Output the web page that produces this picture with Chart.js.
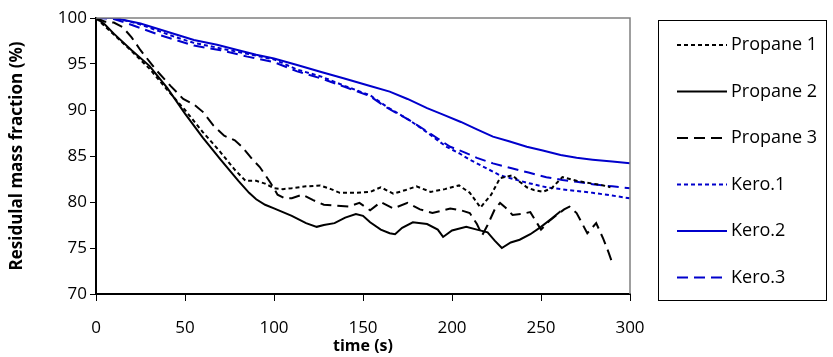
<!DOCTYPE html>
<html>
<head>
<meta charset="utf-8">
<script src="https://cdn.jsdelivr.net/npm/chart.js@4.4.0/dist/chart.umd.min.js"></script>
<style>
  html, body { margin: 0; padding: 0; background: #fff; }
  #wrap { width: 833px; height: 357px; }
</style>
</head>
<body>
<div id="wrap"><canvas id="grafica" width="833" height="357"></canvas></div>
<script>
// tiempos (s) y fracción másica residual (%)
const xTicks = [0, 50, 100, 150, 200, 250, 300];
const yTicks = [70, 75, 80, 85, 90, 95, 100];

const propano1T = [0, 10, 20, 30, 40, 50, 60, 70, 78, 84, 90, 95, 100, 105, 110, 118, 126, 132, 137, 145, 154, 160, 167, 174, 180, 188, 196, 204, 210, 216, 222, 227, 234, 238, 242, 246, 251, 256, 262, 270, 279, 285, 289];
const propano1Y = [100, 98.2, 96.4, 94.5, 92.2, 90, 87.6, 85.4, 83.5, 82.3, 82.3, 82.0, 81.5, 81.4, 81.5, 81.7, 81.8, 81.4, 81.0, 81.0, 81.1, 81.6, 80.9, 81.3, 81.7, 81.1, 81.4, 81.8, 81.0, 79.4, 80.8, 82.6, 82.9, 82.2, 81.6, 81.3, 81.1, 81.5, 82.7, 82.3, 82.0, 81.8, 81.6];

const propano2T = [0, 5, 10, 20, 30, 40, 50, 60, 70, 80, 86, 90, 95, 100, 105, 110, 118, 124, 128, 134, 140, 146, 150, 154, 160, 165, 168, 172, 178, 186, 192, 195, 200, 208, 214, 220, 224, 228, 233, 238, 244, 250, 256, 261];
const propano2Y = [100, 99.3, 98.3, 96.5, 94.8, 92.4, 89.6, 87.0, 84.6, 82.3, 81.0, 80.3, 79.7, 79.3, 78.9, 78.5, 77.7, 77.3, 77.5, 77.7, 78.3, 78.7, 78.5, 77.8, 77.0, 76.6, 76.5, 77.2, 77.8, 77.6, 77.0, 76.2, 76.9, 77.3, 77.0, 76.7, 75.8, 75.0, 75.6, 75.9, 76.5, 77.3, 78.2, 79.0];

const propano3T = [0, 5, 10, 15, 20, 25, 34, 42, 49, 55, 60, 66, 72, 78, 82, 88, 92, 98, 102, 106, 110, 116, 122, 128, 135, 142, 148, 154, 160, 167, 175, 182, 189, 199, 205, 210, 214, 217, 220, 224, 227, 230, 234, 239, 244, 250, 255, 259, 263, 266, 270, 276, 281, 285, 288, 290];
const propano3Y = [100, 99.6, 99.5, 99.0, 97.9, 96.5, 94.3, 92.6, 91.2, 90.6, 89.8, 88.3, 87.2, 86.7, 86.0, 84.6, 83.8, 82.1, 80.8, 80.4, 80.4, 80.8, 80.2, 79.7, 79.6, 79.5, 79.9, 79.1, 80.0, 79.3, 79.9, 79.2, 78.8, 79.3, 79.1, 78.8, 77.6, 76.4, 77.5, 79.2, 79.9, 79.4, 78.6, 78.7, 78.9, 77.0, 78.0, 78.6, 79.2, 79.5, 78.8, 76.6, 77.7, 76.0, 74.5, 73.4];

const kero1T = [0, 10, 15, 25, 35, 45, 55, 70, 85, 100, 113, 127, 140, 154, 163, 176, 185, 192, 197, 204, 210, 216, 227, 242, 253, 265, 279, 290, 300];
const kero1Y = [100, 100, 99.8, 99.3, 98.6, 97.9, 97.3, 96.7, 96.1, 95.5, 94.4, 93.6, 92.6, 91.6, 90.4, 88.9, 87.7, 86.7, 86.0, 85.3, 84.6, 84.0, 82.9, 82.1, 81.6, 81.3, 81.0, 80.7, 80.4];

const kero2T = [0, 10, 15, 25, 35, 45, 55, 68, 80, 90, 100, 113, 127, 140, 154, 165, 175, 186, 195, 205, 214, 223, 232, 242, 251, 261, 270, 279, 290, 300];
const kero2Y = [100, 100, 99.8, 99.4, 98.8, 98.2, 97.6, 97.1, 96.5, 96.0, 95.6, 94.9, 94.1, 93.4, 92.6, 92.0, 91.2, 90.2, 89.5, 88.7, 87.9, 87.1, 86.6, 86.0, 85.6, 85.1, 84.8, 84.6, 84.4, 84.2];

const kero3T = [0, 10, 15, 25, 35, 45, 55, 70, 85, 100, 113, 127, 140, 154, 163, 176, 185, 192, 199, 207, 214, 223, 233, 243, 253, 262, 270, 280, 290, 300];
const kero3Y = [100, 99.9, 99.6, 98.9, 98.2, 97.6, 97.0, 96.5, 95.8, 95.2, 94.2, 93.4, 92.5, 91.5, 90.3, 88.9, 87.8, 86.9, 86.0, 85.4, 84.8, 84.2, 83.7, 83.2, 82.7, 82.4, 82.2, 81.9, 81.7, 81.5];

const etiquetas = ['Propane 1', 'Propane 2', 'Propane 3', 'Kero.1', 'Kero.2', 'Kero.3'];

function puntos(t, y) {
    return t.map((v, i) => ({ x: v, y: y[i] }));
}

const negro = '#000000';
const azul = '#0000CC';
const corto = [4, 3];
const largo = [11, 6];

const series = [
    { label: etiquetas[0], data: puntos(propano1T, propano1Y), color: negro, dash: corto },
    { label: etiquetas[1], data: puntos(propano2T, propano2Y), color: negro, dash: [] },
    { label: etiquetas[2], data: puntos(propano3T, propano3Y), color: negro, dash: largo },
    { label: etiquetas[3], data: puntos(kero1T, kero1Y), color: azul, dash: corto },
    { label: etiquetas[4], data: puntos(kero2T, kero2Y), color: azul, dash: [] },
    { label: etiquetas[5], data: puntos(kero3T, kero3Y), color: azul, dash: largo }
];

const fuente = '"Open Sans", sans-serif';

// marco gris arriba/derecha, títulos de ejes y leyenda con caja
const extras = {
    id: 'extras',
    afterDraw(chart) {
        const c = chart.ctx;
        const a = chart.chartArea;
        c.save();
        c.strokeStyle = '#808080';
        c.lineWidth = 1.5;
        c.beginPath();
        c.moveTo(a.left, a.top);
        c.lineTo(a.right, a.top);
        c.lineTo(a.right, a.bottom);
        c.stroke();

        c.fillStyle = '#000';
        c.font = 'bold 16px ' + fuente;
        c.textAlign = 'center';
        c.textBaseline = 'middle';
        c.fillText('time (s)', (a.left + a.right) / 2, 346);
        c.font = 'bold 17px ' + fuente;
        c.save();
        c.translate(17, (a.top + a.bottom) / 2);
        c.rotate(-Math.PI / 2);
        c.fillText('Residulal mass fraction (%)', 0, 0);
        c.restore();

        // leyenda
        c.strokeStyle = '#000';
        c.lineWidth = 1;
        c.strokeRect(658.5, 20.5, 168, 280);
        c.font = '18px ' + fuente;
        c.textAlign = 'left';
        series.forEach((s, i) => {
            const y = 45 + i * 46.5;
            c.strokeStyle = s.color;
            c.lineWidth = 2;
            c.setLineDash(s.dash);
            c.beginPath();
            c.moveTo(677, y);
            c.lineTo(727, y);
            c.stroke();
            c.setLineDash([]);
            c.fillText(s.label, 731, y);
        });
        c.restore();
    }
};

new Chart(document.getElementById('grafica').getContext('2d'), {
    type: 'scatter',
    data: {
        datasets: series.map(s => ({
            label: s.label,
            data: s.data,
            showLine: true,
            borderColor: s.color,
            backgroundColor: s.color,
            borderWidth: 2,
            borderDash: s.dash,
            pointRadius: 0,
            tension: 0
        }))
    },
    options: {
        responsive: false,
        animation: false,
        layout: { padding: { top: 18, right: 203, left: 0, bottom: 0 } },
        plugins: { legend: { display: false }, tooltip: { enabled: false } },
        scales: {
            x: {
                type: 'linear',
                min: 0, max: 300,
                afterBuildTicks: ax => { ax.ticks = xTicks.map(v => ({ value: v })); },
                afterFit: ax => { ax.height = 63; },
                grid: { drawOnChartArea: false, tickLength: 7, tickColor: '#000', tickWidth: 1 },
                border: { color: '#000', width: 2 },
                ticks: { color: '#000', padding: 17, font: { family: fuente, size: 17 } }
            },
            y: {
                min: 70, max: 100,
                afterBuildTicks: ax => { ax.ticks = yTicks.map(v => ({ value: v })); },
                afterFit: ax => { ax.width = 96; },
                grid: { drawOnChartArea: false, tickLength: 6, tickColor: '#000', tickWidth: 1 },
                border: { color: '#000', width: 2 },
                ticks: { color: '#000', padding: 3, font: { family: fuente, size: 17 } }
            }
        }
    },
    plugins: [extras]
});
</script>
</body>
</html>
